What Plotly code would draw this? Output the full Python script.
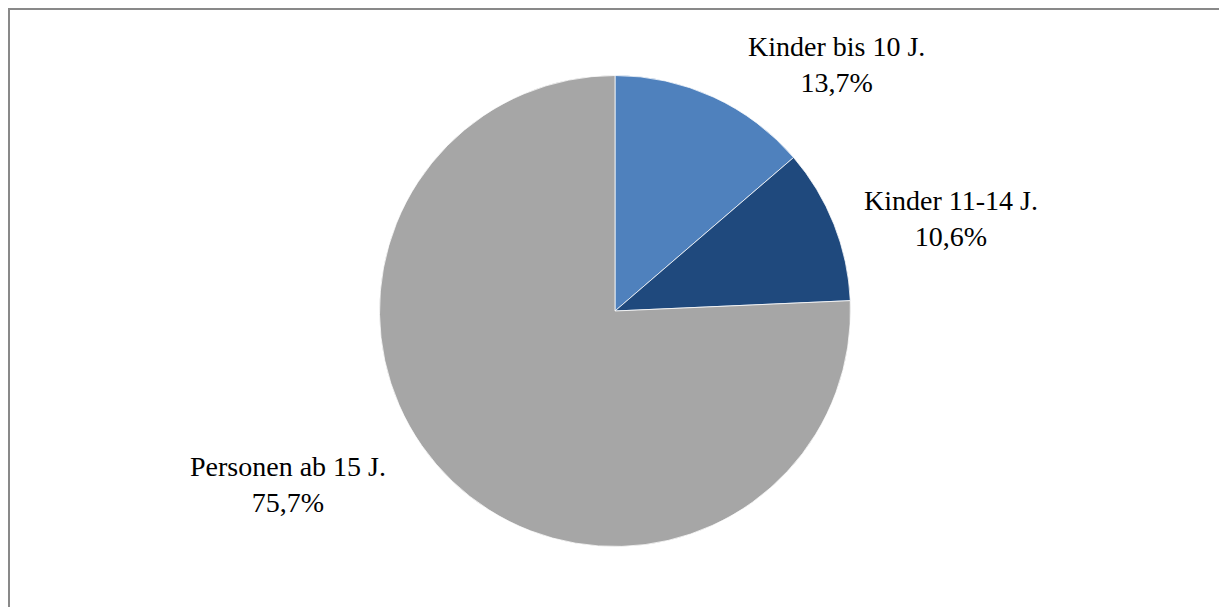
import plotly.graph_objects as go

# Anteile nach Altersgruppe
labels = ["Kinder bis 10 J.", "Kinder 11-14 J.", "Personen ab 15 J."]
values = [13.7, 10.6, 75.7]
value_text = ["13,7%", "10,6%", "75,7%"]
colors = ["#4f81bd", "#1f497d", "#a6a6a6"]

W, H = 1219, 607
cx, cy, r = 615, 311, 235.5  # pie centre and radius in pixels

fig = go.Figure(
    go.Pie(
        labels=labels,
        values=values,
        sort=False,
        direction="clockwise",
        rotation=0,
        textinfo="none",
        hoverinfo="label+percent",
        marker=dict(colors=colors, line=dict(color="#ffffff", width=0.75)),
        domain=dict(
            x=[(cx - r) / W, (cx + r) / W],
            y=[(H - cy - r) / H, (H - cy + r) / H],
        ),
        showlegend=False,
    )
)

# Label positions (pixel centres) for each slice
label_pos = [(836, 65), (951, 218), (288, 484)]
font = dict(family="Liberation Serif, Times New Roman, serif", size=28, color="#000000")
for lab, txt, (px, py) in zip(labels, value_text, label_pos):
    fig.add_annotation(
        x=px / W,
        y=1 - py / H,
        xref="paper",
        yref="paper",
        text=f"{lab}<br>{txt}",
        showarrow=False,
        font=font,
        align="center",
        xanchor="center",
        yanchor="middle",
    )

# Chart frame
fig.add_shape(
    type="rect",
    xref="paper",
    yref="paper",
    x0=9 / W,
    x1=1.05,
    y0=-0.05,
    y1=1 - 9 / H,
    line=dict(color="#898989", width=2),
    fillcolor="rgba(0,0,0,0)",
)

fig.update_layout(
    width=W,
    height=H,
    margin=dict(l=0, r=0, t=0, b=0),
    paper_bgcolor="#ffffff",
    plot_bgcolor="#ffffff",
)

fig.write_html("out.html")
